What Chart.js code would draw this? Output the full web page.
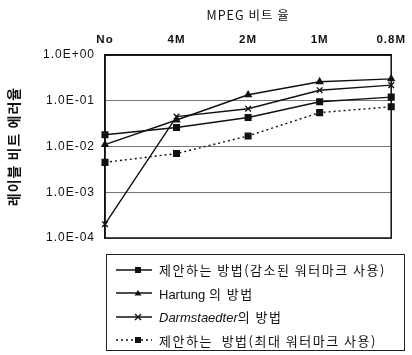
<!DOCTYPE html>
<html>
<head>
<meta charset="utf-8">
<script src="https://cdn.jsdelivr.net/npm/chart.js@4/dist/chart.umd.min.js"></script>
<style>
  html, body { margin: 0; padding: 0; background: #fff; }
  #wrap { position: relative; width: 412px; height: 355px; }
  #chart { position: absolute; left: 0; top: 0; }
  #legend {
    position: absolute; left: 106px; top: 254px; width: 299px; height: 97px;
    border: 1px solid #222; box-sizing: border-box; padding: 3px 0 0 8px;
    font-family: "Liberation Sans", "Noto Sans CJK KR", sans-serif; font-size: 13px; color: #111;
  }
  .row { display: flex; align-items: center; height: 23.5px; white-space: nowrap; }
  .row svg { margin-right: 6px; flex: none; }
  .ko { font-family: "Noto Sans CJK KR", sans-serif; letter-spacing: 1.5px; }
</style>
</head>
<body>
<div id="wrap">
  <canvas id="chart" width="412" height="355"></canvas>
  <div id="legend"></div>
</div>
<script>
// MPEG bit rates along the top axis
const bitRates = ['No', '4M', '2M', '1M', '0.8M'];

// Label bit error rate for each method
const proposedReduced = [0.018, 0.026, 0.043, 0.095, 0.12];
const hartung = [0.011, 0.038, 0.135, 0.26, 0.30];
const darmstaedter = [0.0002, 0.045, 0.067, 0.17, 0.22];
const proposedMax = [0.0045, 0.007, 0.017, 0.055, 0.074];

// Decade ticks on the error-rate axis
const decadeTicks = [1, 0.1, 0.01, 0.001, 0.0001];
const decadeLabels = ['1.0E+00', '1.0E-01', '1.0E-02', '1.0E-03', '1.0E-04'];

const seriesNames = [
  '<span class="ko">제안하는 방법(감소된 워터마크 사용)</span>',
  'Hartung <span class="ko">의 방법</span>',
  '<i>Darmstaedter</i><span class="ko">의 방법</span>',
  '<span class="ko">제안하는&nbsp; 방법(최대 워터마크 사용)</span>'
];

const ink = '#111';
const datasets = [
  { data: proposedReduced, pointStyle: 'rect', pointRadius: 4, borderDash: [] },
  { data: hartung, pointStyle: 'triangle', pointRadius: 3.5, borderDash: [] },
  { data: darmstaedter, pointStyle: 'crossRot', pointRadius: 4, borderDash: [] },
  { data: proposedMax, pointStyle: 'rect', pointRadius: 4, borderDash: [2, 3] }
].map(d => Object.assign({
  borderColor: ink, backgroundColor: ink, pointBackgroundColor: ink,
  pointBorderColor: ink, borderWidth: 1.4, pointBorderWidth: 1.4, tension: 0
}, d));

const chart = new Chart(document.getElementById('chart'), {
  type: 'line',
  data: { labels: bitRates, datasets },
  options: {
    responsive: false,
    animation: false,
    layout: { padding: { left: 0, right: 15, top: 0, bottom: 117 } },
    plugins: { legend: { display: false }, tooltip: { enabled: false } },
    scales: {
      x: {
        position: 'top',
        offset: false,
        grid: { display: false, drawTicks: false },
        border: { color: ink, width: 1.5 },
        ticks: { color: ink, padding: 8, font: { family: 'Liberation Sans', size: 11.5, weight: 'bold' }, maxRotation: 0 },
        title: { display: true, text: 'MPEG 비트 율', color: ink, padding: { top: 8, bottom: 2 },
                 font: { family: 'Noto Sans CJK KR', size: 12.5 } },
        afterFit(s) { s.height = 55; }
      },
      y: {
        type: 'logarithmic',
        min: 0.0001, max: 1,
        afterBuildTicks(s) { s.ticks = decadeTicks.map(v => ({ value: v })); },
        grid: { color: '#777', lineWidth: 1, drawTicks: false },
        border: { color: ink, width: 1.5 },
        ticks: {
          color: ink, padding: 10, font: { family: 'Liberation Sans', size: 12 },
          callback(v) { const i = decadeTicks.indexOf(v); return i >= 0 ? decadeLabels[i] : ''; }
        },
        title: { display: true, text: '레이블 비트 에러율', color: ink, padding: { top: 5, bottom: 0 },
                 font: { family: 'Noto Sans CJK KR', size: 14, weight: 'bold' } },
        afterFit(s) { s.width = 105; }
      }
    }
  },
  plugins: [{
    id: 'frame',
    beforeDraw(c) { c.ctx.letterSpacing = '1px'; },
    afterDatasetsDraw(c) {
      const a = c.chartArea, g = c.ctx;
      g.save();
      g.strokeStyle = ink; g.lineWidth = 1.5;
      g.strokeRect(a.left, a.top, a.right - a.left, a.bottom - a.top);
      g.restore();
    }
  }]
});

// Legend rows: a short line sample with the series marker, then the name
const legend = document.getElementById('legend');
datasets.forEach((d, i) => {
  const dash = d.borderDash.length ? 'stroke-dasharray="2 3"' : '';
  let marker;
  if (d.pointStyle === 'rect') marker = '<rect x="20" y="3" width="6" height="6" fill="#111"/>';
  else if (d.pointStyle === 'triangle') marker = '<polygon points="23,3 26.5,8.5 19.5,8.5" fill="#111"/>';
  else marker = '<path d="M20,3 L26,9 M26,3 L20,9" stroke="#111" stroke-width="1.4"/>';
  const row = document.createElement('div');
  row.className = 'row';
  row.innerHTML = '<svg width="38" height="12"><line x1="1" y1="6" x2="37" y2="6" stroke="#111" stroke-width="1.4" ' + dash + '/>' + marker + '</svg><span>' + seriesNames[i] + '</span>';
  legend.appendChild(row);
});
</script>
</body>
</html>
